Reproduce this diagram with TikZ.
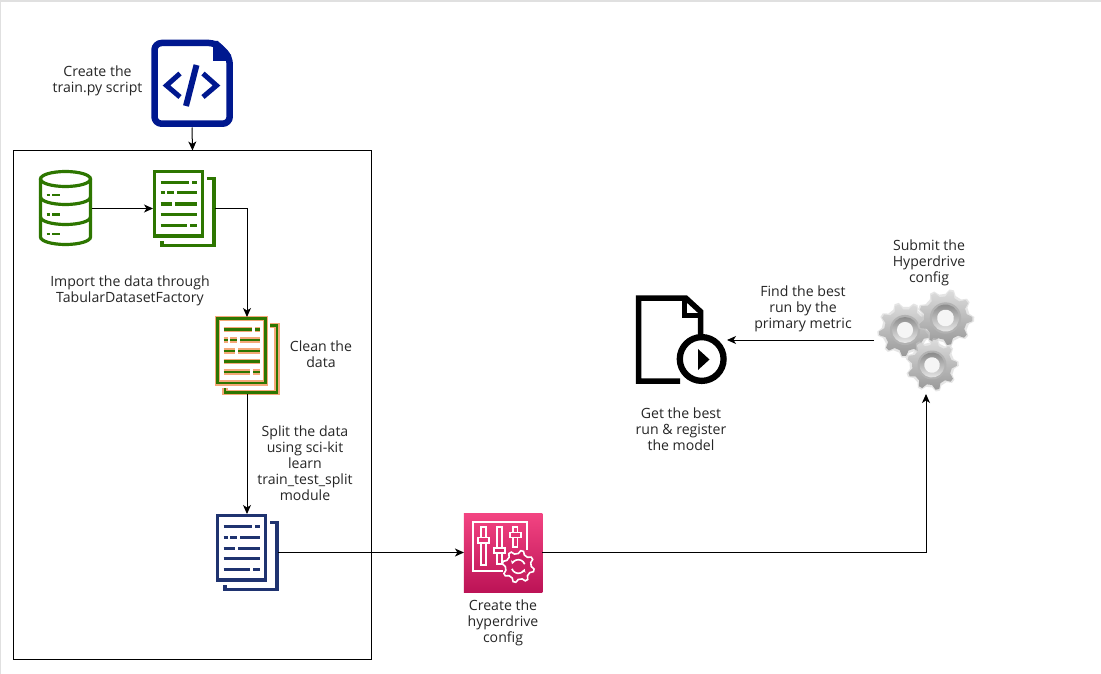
\documentclass[tikz,border=0pt]{standalone}
\usepackage{fontspec}
\setmainfont{Open Sans}
\usetikzlibrary{arrows.meta}
\definecolor{navy}{HTML}{00188F}
\definecolor{docgreen}{HTML}{2D7600}
\definecolor{docblue}{HTML}{1F3370}
\definecolor{docorange}{HTML}{F5A878}
\definecolor{pinktop}{HTML}{F34482}
\definecolor{pinkbot}{HTML}{BC1356}
\tikzset{
  x=1pt,y=-1pt,
  conn/.style={draw=black,line width=1pt,-{Stealth[length=9pt,width=8pt,inset=2.5pt]}},
  plainbox/.style={draw=black,line width=1pt,fill=none,inner sep=0pt},
  iconbox/.style={inner sep=0pt,outer sep=0pt},
  label/.style={inner sep=0pt,align=center,font=\fontsize{14.1}{16}\selectfont,text=black!85},
  docframe/.style={line width=3.6pt},
  docline/.style={line width=3pt},
  hyperline/.style={draw=white,line width=1.6pt,fill=none},
}
% document icon strokes, local size 62 x 77
\newcommand\docstrokes[2]{%
  \draw[docframe,draw=#1,#2] (1.5,1.5) rectangle (49.5,66);
  \draw[docframe,draw=#1,#2] (54,8.5) -- (61,8.5) -- (61,75.5) -- (9,75.5) -- (9,71);
  \draw[docline,draw=#1,#2]
    (7.5,12.5) -- (36,12.5) (39,12.5) -- (44,12.5)
    (7.5,23) -- (11.5,23) (14,23) -- (21,23) (24,23) -- (43.5,23)
    (7.5,34) -- (19,34) (22,34) -- (43.5,34)
    (7.5,44.5) -- (43.5,44.5)
    (7.5,55) -- (33.5,55) (37,55) -- (43.5,55);
}
% gear outline
\newcommand\gearpath[3]{% teeth, outer, inner
  \foreach \g [evaluate=\g as \aa using {\g*360/#1},
               evaluate=\g as \ab using {(\g+0.2)*360/#1},
               evaluate=\g as \ac using {(\g+0.42)*360/#1},
               evaluate=\g as \ad using {(\g+0.62)*360/#1}] in {0,...,\numexpr#1-1\relax}
    {\ifnum\g=0 (\aa:#3) \else -- (\aa:#3) \fi -- (\ab:#2) -- (\ac:#2) -- (\ad:#3)} -- cycle
}
\newcommand\graygear[4]{% x,y,radius,rotation
  \begin{scope}[shift={(#1,#2)},rotate=#4]
    \fill[black!20,opacity=.5] \gearpath{9}{#3+1.8}{#3*0.84+1.5};
    \shade[top color=black!14,bottom color=black!40] \gearpath{9}{#3}{#3*0.80};
    \fill[black!30] (0,0) circle ({#3*0.58});
    \shade[top color=black!45,bottom color=black!8] (0,0) circle ({#3*0.50});
    \fill[black!4] (0,0) circle ({#3*0.31});
  \end{scope}
}
\begin{document}
\begin{tikzpicture}
\useasboundingbox (0,0) rectangle (1101,674);
\fill[white] (0,0) rectangle (1101,674);
\fill[black!12] (0,0) rectangle (1101,2.5);
\fill[black!12] (0,0) rectangle (1,674);

% --- anchor nodes for icons
\node[iconbox,minimum width=82pt,minimum height=88pt] (script) at (192,83.5) {};
\node[plainbox,minimum width=358pt,minimum height=508pt] (box) at (192.5,405) {};
\node[iconbox,minimum width=53pt,minimum height=77pt] (db) at (65.5,208.5) {};
\node[iconbox,minimum width=62pt,minimum height=77pt] (docA) at (184,208.5) {};
\node[iconbox,minimum width=62pt,minimum height=77pt] (docB) at (247,355.5) {};
\node[iconbox,minimum width=62pt,minimum height=77pt] (docC) at (247,552.5) {};
\node[iconbox,minimum width=78.5pt,minimum height=79pt,top color=pinktop,bottom color=pinkbot] (hyper) at (503.2,552.5) {};
\node[iconbox,minimum width=104pt,minimum height=108pt] (gears) at (926,340) {};
\node[iconbox,minimum width=92pt,minimum height=90pt] (run) at (681,340) {};

% --- script icon
\begin{scope}[navy]
  \draw[line width=6.5pt,line join=round,rounded corners=7pt] (154.5,43) -- (216,43) -- (229.7,57) -- (229.7,123.7) -- (154.5,123.7) -- cycle;
  \fill (213,41) -- (218,41) -- (231,55) -- (231,61) -- (213,61) -- cycle;
  \draw[line width=5pt,miter limit=10] (180,73.5) -- (166.5,85.5) -- (180,97);
  \draw[line width=5pt,miter limit=10] (203,73.5) -- (216.5,85.5) -- (203,97);
  \draw[line width=6pt] (196.5,65) -- (186,106);
\end{scope}

% --- database icon
\begin{scope}[docgreen,line width=3.2pt]
  \draw (65.5,179) ellipse [x radius=25,y radius=7.5];
  \draw (40.5,179) -- (40.5,237) arc[start angle=180,end angle=0,x radius=25,y radius=7.5] -- (90.5,179);
  \draw (40.5,197) arc[start angle=180,end angle=0,x radius=25,y radius=7.5];
  \draw (40.5,217) arc[start angle=180,end angle=0,x radius=25,y radius=7.5];
  \draw[line width=2.8pt]
    (46.5,195) -- (50,195) (52,195) -- (59.5,195)
    (46.5,214.5) -- (50,214.5) (52,214.5) -- (59.5,214.5)
    (46.5,234) -- (50,234) (52,234) -- (59.5,234);
\end{scope}

% --- document icons
\begin{scope}[shift={(153,170)}]\docstrokes{docgreen}{}\end{scope}
\begin{scope}[shift={(216,317)}]
  \docstrokes{docorange}{line width=5.2pt}
  \docstrokes{docgreen}{line width=2.5pt}
\end{scope}
\begin{scope}[shift={(216,514)}]\docstrokes{docblue}{}\end{scope}

% --- hyperdrive icon
\begin{scope}
  \draw[hyperline] (503,570.7) -- (473,570.7) -- (473,522) -- (526.7,522) -- (526.7,550);
  \draw[hyperline] (481,527) rectangle (486,565);
  \draw[hyperline,fill=pinktop!70!pinkbot] (478,537.5) rectangle (489,543);
  \draw[hyperline] (497,527) rectangle (502,564);
  \draw[hyperline,fill=pinktop!40!pinkbot] (494,548) rectangle (505,553);
  \draw[hyperline] (513,527) rectangle (517.5,547);
  \draw[hyperline,fill=pinktop!70!pinkbot] (510,532.5) rectangle (521,537.5);
  \begin{scope}[shift={(518.3,566.5)}]
    \draw[white,line width=1.6pt,fill=pinktop!25!pinkbot] \gearpath{8}{16}{13};
    \draw[hyperline,-{Stealth[length=3.5pt,width=4pt]}] (160:6.8) arc[start angle=160,end angle=20,radius=6.8];
    \draw[hyperline,-{Stealth[length=3.5pt,width=4pt]}] (-20:6.8) arc[start angle=-20,end angle=-160,radius=6.8];
  \end{scope}
\end{scope}

% --- gears icon
\graygear{905}{330}{26}{0}
\graygear{945.5}{318}{27}{10}
\graygear{932}{365}{25}{15}

% --- run icon
\begin{scope}[black]
  \draw[line width=5.5pt,miter limit=4] (700.5,336) -- (700.5,311.5) -- (686,298.2) -- (638.5,298.2) -- (638.5,381) -- (680,381);
  \draw[line width=5pt] (684.5,297) -- (684.5,315.5) -- (703,315.5);
  \fill[white] (679,340) -- (698,340) -- (698,362) -- (679,362) -- cycle;
  \draw[line width=6.3pt] (701.7,359) circle (21.9);
  \fill (698,349) -- (709.5,359.5) -- (698,370) -- cycle;
\end{scope}

% --- connectors
\draw[conn] (script.south) -- (box.north);
\draw[conn] (db.east) -- (docA.west);
\draw[conn] (docA.east) -| (docB.north);
\draw[conn] (docB.south) -- (docC.north);
\draw[conn] (docC.east) -- (hyper.west);
\draw[conn] (hyper.east) -| (gears.south);
\draw[conn] (gears.west) -- (run.east);

% --- labels
\node[label] (t1) at (97.5,80.5) {Create the\\train.py script};
\node[label] (t2) at (130,291) {Import the data through\\TabularDatasetFactory};
\node[label] (t3) at (321,354.5) {Clean the\\data};
\node[label] (t4) at (305,463.5) {Split the data\\using sci-kit\\learn\\train\_test\_split\\module};
\node[label] (t5) at (503,623) {Create the\\hyperdrive\\config};
\node[label] (t6) at (803,309) {Find the best\\run by the\\primary metric};
\node[label] (t7) at (929,262.5) {Submit the\\Hyperdrive\\config};
\node[label] (t8) at (681,429.5) {Get the best\\run \& register\\the model};
\end{tikzpicture}
\end{document}
